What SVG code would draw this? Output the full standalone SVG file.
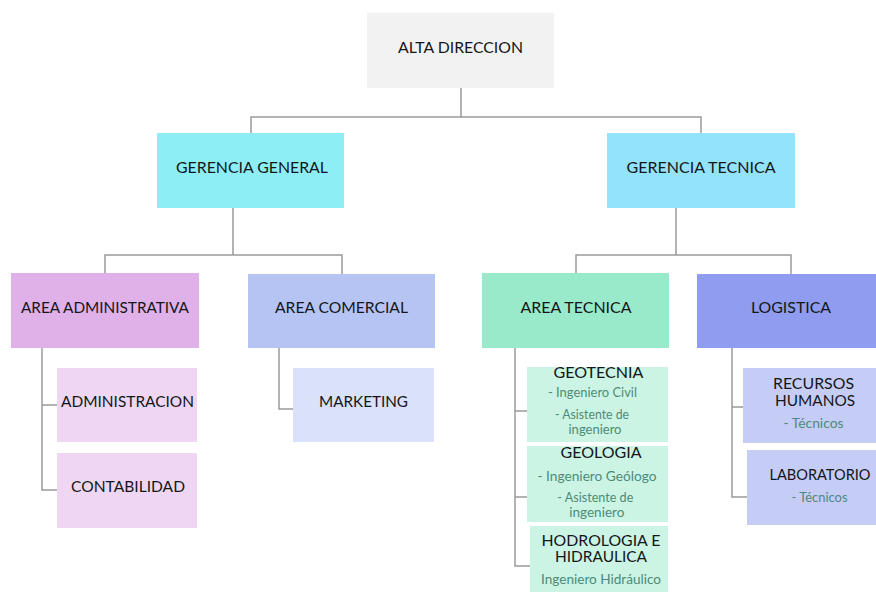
<svg xmlns="http://www.w3.org/2000/svg" width="876" height="592" viewBox="0 0 876 592">
<style>
.t{font-family:Lato,"Open Sans","Liberation Sans",sans-serif;font-size:16px;fill:#141618;text-anchor:middle;}
.t2{font-family:Lato,"Open Sans","Liberation Sans",sans-serif;font-size:15px;fill:#141618;text-anchor:middle;}
.s{font-family:Lato,"Open Sans","Liberation Sans",sans-serif;font-size:13px;fill:#4e8a78;text-anchor:middle;}
.c{fill:none;stroke:#9a9a9a;stroke-width:1.5;}
</style>
<rect width="876" height="592" fill="#ffffff"/>
<g id="connectors">
<path class="c" d="M461 88V117M251 133V117H701V133"/>
<path class="c" d="M233 208V255M105 273V255H342V274"/>
<path class="c" d="M676 208V255M576 273V255H791V274"/>
<path class="c" d="M42 348V490H57M42 405H57"/>
<path class="c" d="M279 348V409H293"/>
<path class="c" d="M515 348V566H530M515 411H527M515 497H527"/>
<path class="c" d="M732 348V497H747M732 407H743"/>
</g>
<g id="alta-direccion"><rect x="367" y="13" width="187" height="75" fill="#f2f2f2"/><text class="t" x="460.5" y="53" textLength="125" lengthAdjust="spacingAndGlyphs">ALTA DIRECCION</text></g>
<g id="gerencia-general"><rect x="157" y="133" width="187" height="75" fill="#8eeef6"/><text class="t" x="252" y="173" textLength="152" lengthAdjust="spacingAndGlyphs">GERENCIA GENERAL</text></g>
<g id="gerencia-tecnica"><rect x="607" y="133" width="188" height="75" fill="#94e3fd"/><text class="t" x="701" y="173" textLength="149" lengthAdjust="spacingAndGlyphs">GERENCIA TECNICA</text></g>
<g id="area-administrativa"><rect x="11" y="273" width="188" height="75" fill="#e0b1e8"/><text class="t" x="105" y="313" textLength="168" lengthAdjust="spacingAndGlyphs">AREA ADMINISTRATIVA</text></g>
<g id="area-comercial"><rect x="248" y="274" width="187" height="74" fill="#b6c4f4"/><text class="t" x="341.5" y="313" textLength="133" lengthAdjust="spacingAndGlyphs">AREA COMERCIAL</text></g>
<g id="area-tecnica"><rect x="482" y="273" width="187" height="75" fill="#99e9cb"/><text class="t" x="576" y="313" textLength="111" lengthAdjust="spacingAndGlyphs">AREA TECNICA</text></g>
<g id="logistica"><rect x="697" y="274" width="188" height="74" fill="#8f9cf0"/><text class="t" x="791" y="313" textLength="80" lengthAdjust="spacingAndGlyphs">LOGISTICA</text></g>
<g id="administracion"><rect x="57" y="368" width="140" height="74" fill="#efd7f3"/><text class="t" x="127.5" y="407" textLength="133" lengthAdjust="spacingAndGlyphs">ADMINISTRACION</text></g>
<g id="contabilidad"><rect x="57" y="453" width="140" height="75" fill="#efd7f3"/><text class="t" x="128" y="492" textLength="114" lengthAdjust="spacingAndGlyphs">CONTABILIDAD</text></g>
<g id="marketing"><rect x="293" y="368" width="141" height="74" fill="#dae1fb"/><text class="t" x="363.5" y="407" textLength="89" lengthAdjust="spacingAndGlyphs">MARKETING</text></g>
<g id="geotecnia"><rect x="527" y="367" width="141" height="75" fill="#cbf4e4"/>
<text class="t" x="598.5" y="378" textLength="90" lengthAdjust="spacingAndGlyphs">GEOTECNIA</text>
<text class="s" x="592.5" y="397" textLength="89" lengthAdjust="spacingAndGlyphs">- Ingeniero Civil</text>
<text class="s" x="592" y="419" textLength="74" lengthAdjust="spacingAndGlyphs">- Asistente de</text>
<text class="s" x="595" y="434" textLength="53" lengthAdjust="spacingAndGlyphs">ingeniero</text></g>
<g id="geologia"><rect x="527" y="446" width="141" height="76" fill="#cbf4e4"/>
<text class="t" x="601" y="458" textLength="81" lengthAdjust="spacingAndGlyphs">GEOLOGIA</text>
<text class="s" x="597" y="481" textLength="119" lengthAdjust="spacingAndGlyphs">- Ingeniero Geólogo</text>
<text class="s" x="595.3" y="502" textLength="76" lengthAdjust="spacingAndGlyphs">- Asistente de</text>
<text class="s" x="596.8" y="517" textLength="55" lengthAdjust="spacingAndGlyphs">ingeniero</text></g>
<g id="hodrologia"><rect x="530" y="526" width="138" height="70" fill="#cbf4e4"/>
<text class="t2" x="601" y="546" textLength="119" lengthAdjust="spacingAndGlyphs">HODROLOGIA E</text>
<text class="t2" x="601" y="562" textLength="92" lengthAdjust="spacingAndGlyphs">HIDRAULICA</text>
<text class="s" x="601" y="584" textLength="120" lengthAdjust="spacingAndGlyphs">Ingeniero Hidráulico</text></g>
<g id="recursos-humanos"><rect x="743" y="368" width="141" height="75" fill="#c5cdf7"/>
<text class="t2" x="813.5" y="389" textLength="81" lengthAdjust="spacingAndGlyphs">RECURSOS</text>
<text class="t2" x="815" y="406" textLength="80" lengthAdjust="spacingAndGlyphs">HUMANOS</text>
<text class="s" x="813.5" y="428" textLength="60" lengthAdjust="spacingAndGlyphs">- Técnicos</text></g>
<g id="laboratorio"><rect x="747" y="450" width="141" height="75" fill="#c5cdf7"/>
<text class="t" x="820" y="480" textLength="101" lengthAdjust="spacingAndGlyphs">LABORATORIO</text>
<text class="s" x="819.5" y="502" textLength="56" lengthAdjust="spacingAndGlyphs">- Técnicos</text></g>
</svg>
